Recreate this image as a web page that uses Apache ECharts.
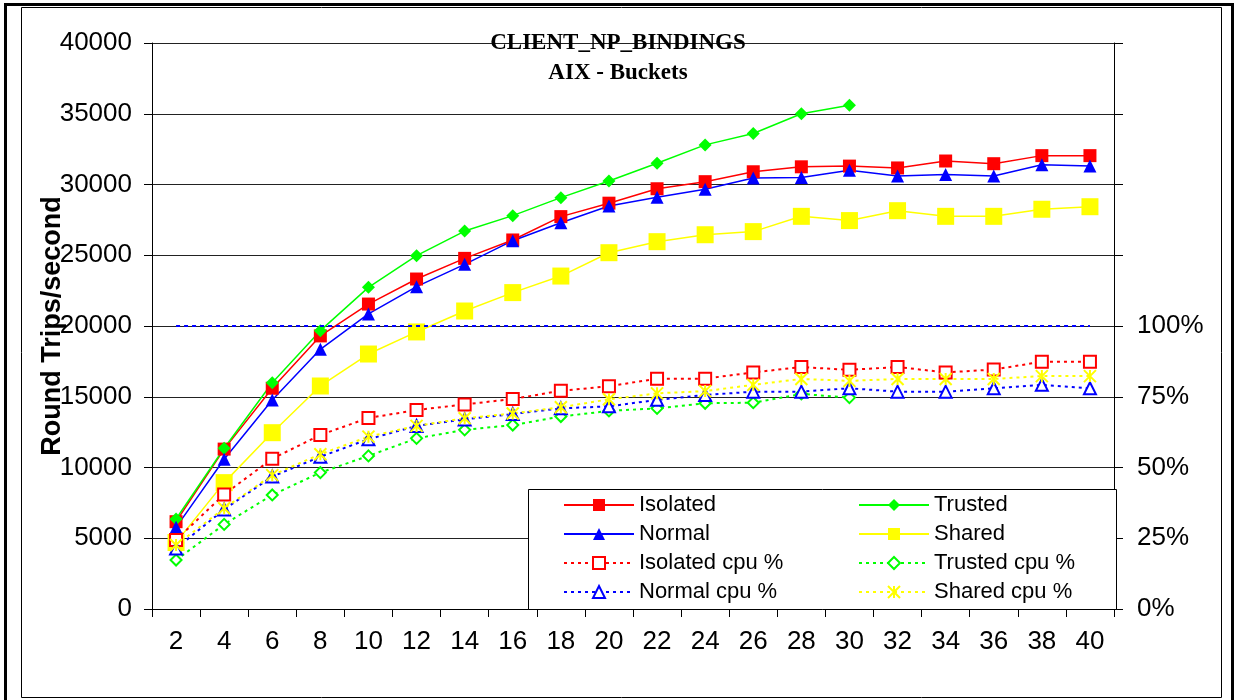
<!DOCTYPE html>
<html>
<head>
<meta charset="utf-8">
<title>CLIENT_NP_BINDINGS - AIX - Buckets</title>
<script src="https://cdn.jsdelivr.net/npm/echarts@6/dist/echarts.min.js"></script>
<style>
  html, body { margin: 0; padding: 0; background: #fff; }
  #chart { width: 1236px; height: 700px; }
</style>
</head>
<body>
<div id="chart"></div>
<script>
// Number of client threads
const clients = ['2', '4', '6', '8', '10', '12', '14', '16', '18', '20',
                 '22', '24', '26', '28', '30', '32', '34', '36', '38', '40'];

// Round trips per second
const isolated = [6170, 11300, 15600, 19300, 21550, 23320, 24780, 26080, 27730, 28680,
                  29700, 30200, 30900, 31250, 31300, 31170, 31660, 31470, 32040, 32040];
const trusted  = [6360, 11360, 15990, 19670, 22730, 24970, 26710, 27800, 29070, 30250,
                  31500, 32800, 33600, 35000, 35600];
const normal   = [5770, 10580, 14770, 18350, 20850, 22780, 24360, 26030, 27300, 28480,
                  29100, 29660, 30460, 30500, 31000, 30600, 30700, 30600, 31400, 31300];
const shared   = [4700, 8930, 12460, 15760, 18020, 19580, 21060, 22360, 23530, 25180,
                  25960, 26450, 26670, 27750, 27450, 28150, 27750, 27750, 28250, 28430];

// CPU utilisation, percent
const isolatedCpu = [24.4, 40.5, 53.1, 61.5, 67.5, 70.3, 72.3, 74.2, 77.1, 78.7,
                     81.4, 81.4, 83.6, 85.5, 84.5, 85.5, 83.6, 84.6, 87.4, 87.4];
const trustedCpu  = [17.3, 29.9, 40.3, 48.2, 54.1, 60.3, 63.3, 65.0, 68.0, 70.0,
                     70.9, 72.7, 72.9, 76.0, 74.7];
const normalCpu   = [21.4, 35.2, 46.8, 53.8, 60.0, 64.7, 67.0, 68.9, 70.9, 71.6,
                     73.9, 75.6, 76.8, 76.8, 78.0, 76.8, 76.8, 78.0, 79.2, 78.0];
const sharedCpu   = [22.6, 35.6, 47.3, 54.7, 60.9, 64.7, 67.4, 69.1, 71.3, 74.1,
                     76.2, 77.0, 79.2, 81.3, 80.6, 81.3, 81.3, 81.3, 82.3, 82.3];

// Ceiling reference for the CPU axis
const cpuCeiling = 100;

const RED = '#ff0000', GREEN = '#00ff00', BLUE = '#0000ff', YELLOW = '#ffff00';
const SANS = 'Liberation Sans, Arial, Helvetica, sans-serif';
const SERIF = 'Liberation Serif, Times New Roman, serif';
const DOTS = [3, 4];
const ASTERISK = 'path://M0,0L10,10M0,10L10,0M5,0L5,10';

function solid(name, data, color, symbol, size) {
  return {
    name, type: 'line', data, yAxisIndex: 0,
    symbol, symbolSize: size,
    lineStyle: { color, width: 1.5 },
    itemStyle: { color },
    animation: false
  };
}
function dotted(name, data, color, symbol, size, extra) {
  return Object.assign({
    name, type: 'line', data, yAxisIndex: 1,
    symbol, symbolSize: size,
    lineStyle: { color, width: 2, type: DOTS },
    itemStyle: { color, borderColor: color, borderWidth: 1.5 },
    animation: false
  }, extra || {});
}

const chart = echarts.init(document.getElementById('chart'), null, { renderer: 'canvas' });

const legendCommon = {
  orient: 'vertical',
  top: 494,
  padding: 0,
  itemWidth: 70,
  itemHeight: 15,
  itemGap: 7,
  textStyle: { fontFamily: SANS, fontSize: 22, color: '#000' },
  selectedMode: false
};

chart.setOption({
  backgroundColor: '#fff',
  animation: false,
  title: {
    text: 'CLIENT_NP_BINDINGS',
    subtext: 'AIX - Buckets',
    left: 'center',
    top: 32,
    padding: 0,
    itemGap: 7,
    textStyle: { fontFamily: SERIF, fontWeight: 'bold', fontSize: 23, color: '#000' },
    subtextStyle: { fontFamily: SERIF, fontWeight: 'bold', fontSize: 23, color: '#000' }
  },
  graphic: [
    { type: 'rect', z: 0, silent: true,
      shape: { x: 5.5, y: 4.5, width: 1227, height: 697 },
      style: { fill: null, stroke: '#000', lineWidth: 3 } },
    { type: 'rect', z: 0, silent: true,
      shape: { x: 21.5, y: 7.5, width: 1200, height: 690 },
      style: { fill: null, stroke: '#000', lineWidth: 1 } },
    { type: 'rect', z: 1, silent: true,
      shape: { x: 528.5, y: 489.5, width: 588, height: 120 },
      style: { fill: '#fff', stroke: '#000', lineWidth: 1 } }
  ],
  legend: [
    Object.assign({ left: 563, data: ['Isolated', 'Normal', 'Isolated cpu %', 'Normal cpu %'] }, legendCommon),
    Object.assign({ left: 858, data: ['Trusted', 'Shared', 'Trusted cpu %', 'Shared cpu %'] }, legendCommon)
  ],
  grid: { left: 152, right: 122, top: 43, bottom: 91, containLabel: false },
  xAxis: {
    type: 'category',
    data: clients,
    boundaryGap: true,
    axisLine: { lineStyle: { color: '#000', width: 1 } },
    axisTick: { show: true, length: 8, lineStyle: { color: '#000' } },
    axisLabel: { fontFamily: SANS, fontSize: 26, color: '#000', margin: 20 },
    splitLine: { show: false }
  },
  yAxis: [
    {
      type: 'value',
      name: 'Round Trips/second',
      nameLocation: 'middle',
      nameGap: 86,
      nameMoveOverlap: false,
      nameTextStyle: { fontFamily: SANS, fontSize: 27, fontWeight: 'bold', color: '#000' },
      min: 0, max: 40000, interval: 5000,
      axisLine: { show: true, lineStyle: { color: '#000' } },
      axisTick: { show: true, length: 8, lineStyle: { color: '#000' } },
      axisLabel: {
        fontFamily: SANS, fontSize: 26, color: '#000', margin: 20,
        formatter: v => String(v)
      },
      splitLine: { show: true, lineStyle: { color: '#222', width: 1 } }
    },
    {
      type: 'value',
      position: 'right',
      min: 0, max: 200, interval: 25,
      axisLine: { show: true, lineStyle: { color: '#000' } },
      axisTick: { show: true, length: 9, lineStyle: { color: '#000' } },
      axisLabel: {
        fontFamily: SANS, fontSize: 26, color: '#000', margin: 23,
        formatter: v => (v <= cpuCeiling ? v + '%' : '')
      },
      splitLine: { show: false }
    }
  ],
  series: [
    solid('Isolated', isolated, RED, 'rect', 13),
    solid('Trusted', trusted, GREEN, 'diamond', 13),
    solid('Normal', normal, BLUE, 'triangle', 13),
    solid('Shared', shared, YELLOW, 'rect', 17),
    dotted('Isolated cpu %', isolatedCpu, RED, 'emptyRect', 12),
    dotted('Trusted cpu %', trustedCpu, GREEN, 'emptyDiamond', 11),
    dotted('Normal cpu %', normalCpu, BLUE, 'emptyTriangle', 12, {
      markLine: {
        silent: true,
        symbol: 'none',
        label: { show: false },
        lineStyle: { color: BLUE, width: 2, type: [4, 4] },
        data: [[{ coord: [clients[0], cpuCeiling] }, { coord: [clients[clients.length - 1], cpuCeiling] }]]
      }
    }),
    dotted('Shared cpu %', sharedCpu, YELLOW, ASTERISK, 12, {
      itemStyle: { color: YELLOW, borderColor: YELLOW, borderWidth: 2 }
    })
  ]
});
</script>
</body>
</html>
